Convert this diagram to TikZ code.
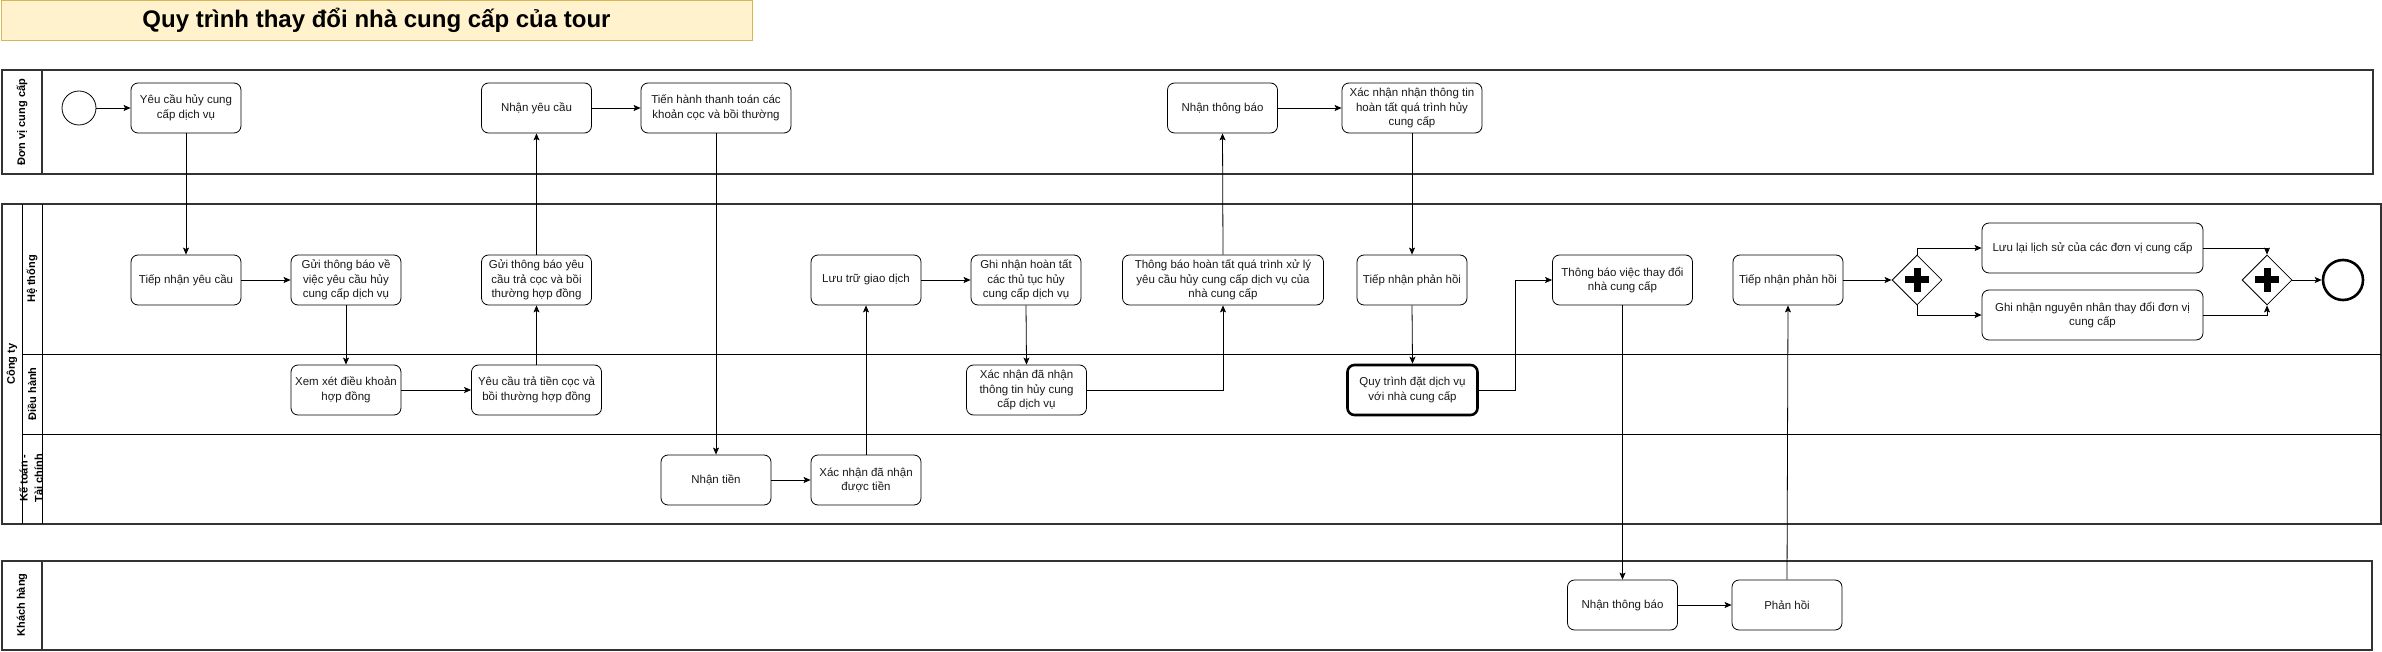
\documentclass[tikz,border=0pt]{standalone}
\usepackage{fontspec}
\setmainfont{Liberation Sans}
\usetikzlibrary{arrows.meta,shapes.geometric,calc}
\definecolor{titlefill}{HTML}{FFF2CC}
\definecolor{titledraw}{HTML}{D6B656}
\begin{document}
\begin{tikzpicture}[x=1pt,y=-1pt,
  task/.style={draw=black, line width=0.8pt, rounded corners=7pt, minimum width=110pt,
    minimum height=50pt, align=center, inner sep=2pt, text=black!90,
    font=\fontsize{11.5}{14.5}\selectfont},
  callact/.style={task, line width=2.6pt},
  flow/.style={draw=black, line width=0.8pt, -{Stealth[length=7pt,width=6pt,inset=1.5pt]}},
  gateway/.style={diamond, draw=black, line width=0.8pt, minimum width=50pt, minimum height=50pt, inner sep=0pt},
  plusbar/.style={line width=7pt, black},
  pool/.style={draw=black!80, line width=1.6pt},
  lanediv/.style={draw=black, line width=0.8pt},
  lanelbl/.style={rotate=90, font=\bfseries\fontsize{11}{12}\selectfont, align=center, inner sep=0pt}]
\useasboundingbox (0,0) rectangle (2382,652);

% title
\node[draw=titledraw, fill=titlefill, line width=0.8pt, minimum width=751pt, minimum height=40pt,
  font=\bfseries\fontsize{24}{28}\selectfont] (title) at (376.5,20.5) {Quy trình thay đổi nhà cung cấp của tour};

% pools and lanes
\draw[pool] (2,70) rectangle (2373,174);
\draw[pool] (42,70) -- (42,174);
\draw[pool] (2,204) rectangle (2381,524);
\draw[lanediv] (22,204) -- (22,524);
\draw[lanediv] (42,204) -- (42,524);
\draw[lanediv] (22,354) -- (2381,354);
\draw[lanediv] (22,434) -- (2381,434);
\draw[pool] (2,561) rectangle (2372,650);
\draw[pool] (42,561) -- (42,650);

\node[lanelbl] (lp1) at (22,122) {Đơn vị cung cấp};
\node[lanelbl] (lp2) at (12,364) {Công ty};
\node[lanelbl] (ll1) at (32,279) {Hệ thống};
\node[lanelbl] (ll2) at (32,394) {Điều hành};
\node[lanelbl, font=\bfseries\fontsize{11}{15}\selectfont] (ll3) at (31,478) {Kế toán -\\Tài chính};
\node[lanelbl] (lp3) at (22,605) {Khách hàng};

% pool 1: Don vi cung cap
\node[circle, draw=black, line width=0.8pt, minimum size=34pt, inner sep=0pt] (start) at (79,108) {};
\node[task] (n1) at (186,108) {Yêu cầu hủy cung\\cấp dịch vụ};
\node[task] (n2) at (536.5,108) {Nhận yêu cầu};
\node[task, minimum width=150pt] (n3) at (716,108) {Tiến hành thanh toán các\\khoản cọc và bồi thường};
\node[task] (n4) at (1222.5,108) {Nhận thông báo};
\node[task, minimum width=140pt] (n5) at (1412,108) {Xác nhận nhận thông tin\\hoàn tất quá trình hủy\\cung cấp};

% lane He thong
\node[task] (h1) at (186,280) {Tiếp nhận yêu cầu};
\node[task] (h2) at (346,280) {Gửi thông báo về\\việc yêu cầu hủy\\cung cấp dịch vụ};
\node[task] (h3) at (536.5,280) {Gửi thông báo yêu\\cầu trả cọc và bồi\\thường hợp đồng};
\node[task] (h4) at (866,280) {Lưu trữ giao dịch};
\node[task] (h5) at (1026,280) {Ghi nhận hoàn tất\\các thủ tục hủy\\cung cấp dịch vụ};
\node[task, minimum width=201pt] (h6) at (1223,280) {Thông báo hoàn tất quá trình xử lý\\yêu cầu hủy cung cấp dịch vụ của\\nhà cung cấp};
\node[task] (h7) at (1412,280) {Tiếp nhận phản hồi};
\node[task, minimum width=140pt] (h8) at (1622.5,280) {Thông báo việc thay đổi\\nhà cung cấp};
\node[task] (h9) at (1788,280) {Tiếp nhận phản hồi};
\node[gateway] (g1) at (1917,280) {};
\node[task, minimum width=221pt] (h10) at (2092.5,248) {Lưu lại lịch sử của các đơn vị cung cấp};
\node[task, minimum width=221pt] (h11) at (2092.5,315) {Ghi nhận nguyên nhân thay đổi đơn vị\\cung cấp};
\node[gateway] (g2) at (2267,280) {};
\node[circle, draw=black, line width=2.6pt, minimum size=40pt, inner sep=0pt] (end) at (2343,280) {};

\draw[plusbar] ($(g1)+(-12,0)$) -- ($(g1)+(12,0)$);
\draw[plusbar] ($(g1)+(0,-12)$) -- ($(g1)+(0,12)$);
\draw[plusbar] ($(g2)+(-12,0)$) -- ($(g2)+(12,0)$);
\draw[plusbar] ($(g2)+(0,-12)$) -- ($(g2)+(0,12)$);

% lane Dieu hanh
\node[task] (d1) at (346,390) {Xem xét điều khoản\\hợp đồng};
\node[task, minimum width=130pt] (d2) at (536.5,390) {Yêu cầu trả tiền cọc và\\bồi thường hợp đồng};
\node[task, minimum width=120pt] (d3) at (1026.5,390) {Xác nhận đã nhận\\thông tin hủy cung\\cấp dịch vụ};
\node[callact, minimum width=130pt] (d4) at (1412.5,390) {Quy trình đặt dịch vụ\\với nhà cung cấp};

% lane Ke toan
\node[task] (k1) at (716,480) {Nhận tiền};
\node[task] (k2) at (866,480) {Xác nhận đã nhận\\được tiền};

% pool Khach hang
\node[task] (c1) at (1622.5,605) {Nhận thông báo};
\node[task] (c2) at (1787,605) {Phản hồi};

\coordinate (m1) at (1515.5,390);

% flows
\draw[flow] (start) -- (n1);
\draw[flow] (n1.south) -- (h1.north);
\draw[flow] (h1) -- (h2);
\draw[flow] (h2.south) -- (d1.north);
\draw[flow] (d1) -- (d2);
\draw[flow] (d2.north) -- (h3.south);
\draw[flow] (h3.north) -- (n2.south);
\draw[flow] (n2) -- (n3);
\draw[flow] (n3.south) -- (k1.north);
\draw[flow] (k1) -- (k2);
\draw[flow] (k2.north) -- (h4.south);
\draw[flow] (h4) -- (h5);
\draw[flow] (h5.south) -- (d3.north);
\draw[flow] (d3.east) -| (h6.south);
\draw[flow] (h6.north) -- (n4.south);
\draw[flow] (n4) -- (n5);
\draw[flow] (n5.south) -- (h7.north);
\draw[flow] (h7.south) -- (d4.north);
\draw[flow] (d4.east) -- (m1) |- (h8.west);
\draw[flow] (h8.south) -- (c1.north);
\draw[flow] (c1) -- (c2);
\draw[flow] (c2.north) -- (h9.south);
\draw[flow] (h9) -- (g1.west);
\draw[flow] (g1.north) |- (h10.west);
\draw[flow] (g1.south) |- (h11.west);
\draw[flow] (h10.east) -| (g2.north);
\draw[flow] (h11.east) -| (g2.south);
\draw[flow] (g2.east) -- (end.west);
\end{tikzpicture}
\end{document}
